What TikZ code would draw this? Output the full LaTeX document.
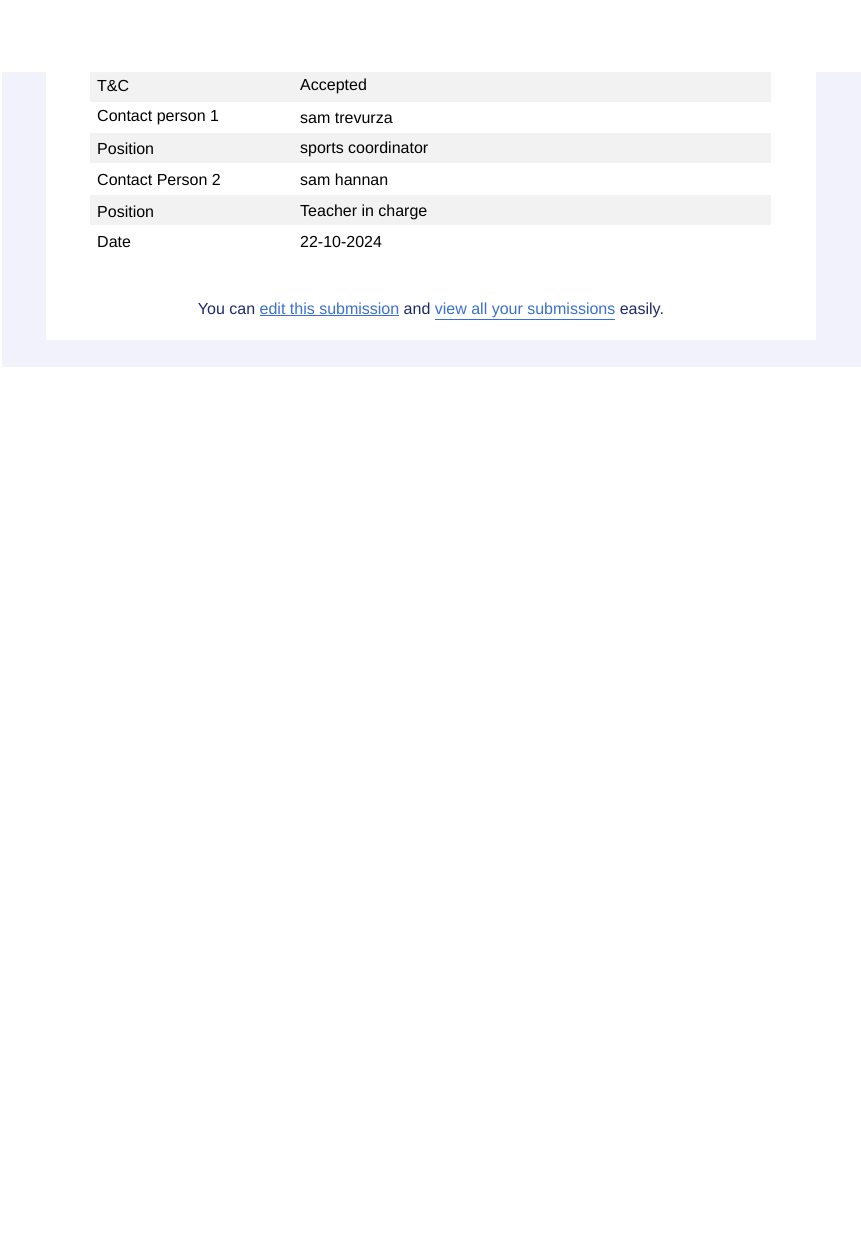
\documentclass[tikz,border=0pt]{standalone}
\usepackage{fontspec}
\setmainfont{Liberation Sans}
\usepackage{xcolor}
\usetikzlibrary{positioning}
\definecolor{pagebg}{HTML}{F1F2FC}
\definecolor{rowgray}{HTML}{F2F2F2}
\definecolor{navy}{HTML}{1F2A6B}
\definecolor{linkblue}{HTML}{3A6FD8}
\tikzset{
  cell/.style={anchor=west,font=\fontsize{16}{18}\selectfont,inner sep=0pt},
  link/.style={text=linkblue}
}
\newcommand{\lnk}[1]{\underline{#1}}
\begin{document}
\begin{tikzpicture}[x=1pt,y=-1pt]
\useasboundingbox (0,0) rectangle (861,1255);
\fill[white] (0,0) rectangle (861,1255);
\fill[pagebg] (2,72) rectangle (861,367);
\fill[white] (46,72) rectangle (816,340);
% table rows
\foreach \top in {72,133,195}
  \fill[rowgray] (90,\top) rectangle (771,\top+30);
\fill[white!97!black!3] (90,258) rectangle (771,283);
\node[cell] (k1) at (97,86) {T\&C};
\node[cell] (v1) at (300,86) {Accepted};
\node[cell] (k2) at (97,118) {Contact person 1};
\node[cell] (v2) at (300,118) {sam trevurza};
\node[cell] (k3) at (97,149) {Position};
\node[cell] (v3) at (300,149) {sports coordinator};
\node[cell] (k4) at (97,180) {Contact Person 2};
\node[cell] (v4) at (300,180) {sam hannan};
\node[cell] (k5) at (97,212) {Position};
\node[cell] (v5) at (300,212) {Teacher in charge};
\node[cell] (k6) at (97,242) {Date};
\node[cell] (v6) at (300,242) {22-10-2024};
% footer
\node[cell,anchor=center,text=navy] (foot) at (431,311)
  {You can \textcolor{linkblue}{\lnk{edit this submission}} and
   \textcolor{linkblue}{\lnk{view all your submissions}} easily.};
\end{tikzpicture}
\end{document}
